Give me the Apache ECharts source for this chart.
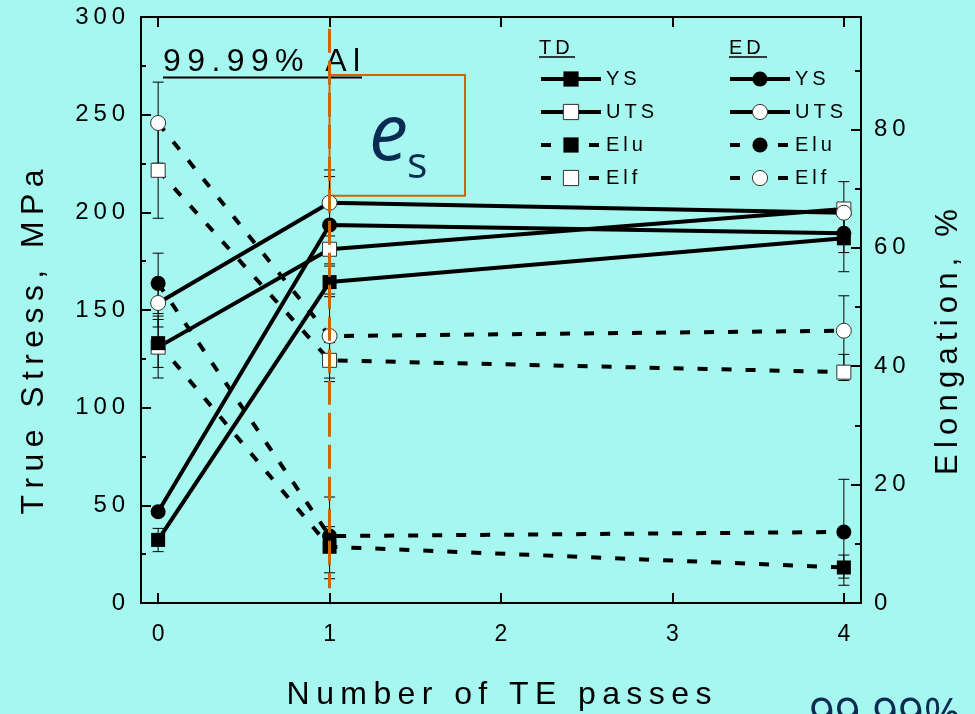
<!DOCTYPE html>
<html>
<head>
<meta charset="utf-8">
<script src="https://cdn.jsdelivr.net/npm/echarts@6/dist/echarts.min.js"></script>
<style>
  html, body { margin: 0; padding: 0; background: #a6f7ef; }
  #chart { width: 975px; height: 714px; }
</style>
</head>
<body>
<div id="chart"></div>
<script>
// Tensile properties of 99.99% Al versus the number of TE passes
const passes = [0, 1, 4];
const xTicks = [0, 1, 2, 3, 4];

// True stress, MPa (left axis)
const tdYS  = [32.3, 164.3, 186.7];
const tdUTS = [131.0, 181.1, 201.7];
const edYS  = [46.7, 193.5, 189.3];
const edUTS = [153.6, 204.9, 199.8];

// Elongation, % (right axis)
const tdElu = [43.9, 9.5, 6.0];
const tdElf = [73.1, 41.0, 39.0];
const edElu = [54.0, 11.3, 12.0];
const edElf = [81.1, 45.1, 46.0];

// Scatter ranges [low, high] at each pass
const tdYSErr  = [[26.3, 38.2], [156.8, 172.5], [169.6, 203.8]];
const tdUTSErr = [[115.2, 146.9], [173.6, 187.9], [187.7, 215.7]];
const edYSErr  = [[44.7, 48.7], [165.4, 221.7], [179.4, 199.2]];
const edUTSErr = [[141.3, 165.9], [191.6, 218.3], [189.6, 205.0]];
const tdEluErr = [[39.8, 47.9], [4.1, 12.9], [4.2, 8.1]];
const tdElfErr = [[65.0, 80.5], [38.0, 44.0], [37.6, 42.0]];
const edEluErr = [[48.9, 59.1], [5.1, 17.9], [3.0, 20.9]];
const edElfErr = [[74.3, 88.0], [37.4, 52.2], [40.1, 51.9]];

// Stress annotation: pass 1 marker line and the e_s box
const markerPass = [1, 294, 7.5];          // x, top stress, bottom stress
const esBox = [[1, 270.3], [1.79, 208.5]]; // corners in (pass, stress)

const FONT = '"Liberation Sans", Arial, sans-serif';
const spaced = s => String(s).split('').join('\u2009');

const solidLine = { color: '#000', width: 4, type: 'solid', cap: 'butt' };
const dashLine  = { color: '#000', width: 4, type: [10, 14], cap: 'butt' };
const filled = { color: '#000' };
const hollow = { color: '#fff', borderColor: '#333', borderWidth: 1 };

function propSeries(name, values, yAxisIndex, symbol, itemStyle, lineStyle) {
  return {
    name, type: 'line', xAxisIndex: 0, yAxisIndex,
    data: passes.map((x, i) => [x, values[i]]),
    symbol, symbolSize: symbol === 'circle' ? 15 : 14,
    showSymbol: true, itemStyle, lineStyle, z: 3,
    emphasis: { disabled: true }, animation: false
  };
}

function errRows(list) {
  const rows = [];
  list.forEach(err => err.forEach((r, i) => rows.push([passes[i], r[0], r[1]])));
  return rows;
}

function renderErr(params, api) {
  const x = api.value(0);
  const top = api.coord([x, api.value(2)]);
  const bot = api.coord([x, api.value(1)]);
  const w = 5.5;
  const st = { stroke: '#000', lineWidth: 1 };
  return {
    type: 'group',
    children: [
      { type: 'line', shape: { x1: top[0], y1: top[1], x2: bot[0], y2: bot[1] }, style: st },
      { type: 'line', shape: { x1: top[0] - w, y1: top[1], x2: top[0] + w, y2: top[1] }, style: st },
      { type: 'line', shape: { x1: bot[0] - w, y1: bot[1], x2: bot[0] + w, y2: bot[1] }, style: st }
    ]
  };
}

const axisLineStyle = { color: '#000', width: 2 };
const labelStyle = { fontSize: 24, color: '#000', fontFamily: FONT };

const chart = echarts.init(document.getElementById('chart'), null, { renderer: 'canvas' });

const stressSeries = propSeries('ED UTS', edUTS, 0, 'circle', hollow, solidLine);
stressSeries.markLine = {
  silent: true, symbol: ['none', 'none'], label: { show: false },
  lineStyle: { color: '#cc6600', width: 3, type: [24, 8] },
  emphasis: { disabled: true },
  data: [[{ coord: [markerPass[0], markerPass[1]] }, { coord: [markerPass[0], markerPass[2]] }]]
};
stressSeries.markArea = {
  silent: true, label: { show: false },
  itemStyle: { color: 'rgba(0,0,0,0)', borderColor: '#cc6600', borderWidth: 2 },
  emphasis: { disabled: true },
  data: [[{ coord: esBox[0] }, { coord: esBox[1] }]]
};

const legendBase = {
  orient: 'vertical', top: 69, itemWidth: 60, itemHeight: 19, itemGap: 13,
  padding: 0, selectedMode: false,
  formatter: n => spaced(n.slice(3)),
  textStyle: { fontSize: 20, color: '#000', fontFamily: FONT },
  lineStyle: { width: 4 },
  itemStyle: { borderWidth: 1 }
};

chart.setOption({
  backgroundColor: '#a6f7ef',
  animation: false,
  grid: { left: 141, right: 114, top: 17, bottom: 111, containLabel: false },
  xAxis: [
    {
      type: 'value', min: -0.1, max: 4.1, position: 'bottom',
      axisLine: { show: true, onZero: false, lineStyle: axisLineStyle },
      axisTick: { show: true, inside: true, length: 10, customValues: xTicks, lineStyle: { color: '#000', width: 2 } },
      axisLabel: { customValues: xTicks, margin: 20, ...labelStyle, fontSize: 23 },
      splitLine: { show: false }
    },
    {
      type: 'value', min: -0.1, max: 4.1, position: 'top',
      axisLine: { show: true, onZero: false, lineStyle: axisLineStyle },
      axisTick: { show: true, inside: true, length: 10, customValues: xTicks, lineStyle: { color: '#000', width: 2 } },
      axisLabel: { show: false },
      splitLine: { show: false }
    }
  ],
  yAxis: [
    {
      type: 'value', min: 0, max: 300, interval: 50, position: 'left',
      axisLine: { show: true, onZero: false, lineStyle: axisLineStyle },
      axisTick: { show: true, inside: true, length: 10, lineStyle: { color: '#000', width: 2 } },
      minorTick: { show: true, splitNumber: 2, length: 5, lineStyle: { color: '#000', width: 2 } },
      axisLabel: { margin: 16, formatter: v => spaced(v), ...labelStyle },
      splitLine: { show: false }, minorSplitLine: { show: false }
    },
    {
      type: 'value', min: 0, max: 99, interval: 20, position: 'right',
      axisLine: { show: true, onZero: false, lineStyle: axisLineStyle },
      axisTick: { show: true, inside: true, length: 10, lineStyle: { color: '#000', width: 2 } },
      minorTick: { show: true, splitNumber: 2, length: 6, lineStyle: { color: '#000', width: 2 } },
      axisLabel: { margin: 13, showMaxLabel: false, formatter: v => spaced(v), ...labelStyle },
      splitLine: { show: false }, minorSplitLine: { show: false }
    }
  ],
  legend: [
    Object.assign({}, legendBase, { left: 539, data: ['TD YS', 'TD UTS', 'TD Elu', 'TD Elf'] }),
    Object.assign({}, legendBase, { left: 728, data: ['ED YS', 'ED UTS', 'ED Elu', 'ED Elf'] })
  ],
  series: [
    {
      type: 'custom', name: 'stress range', xAxisIndex: 0, yAxisIndex: 0, z: 2, silent: true,
      renderItem: renderErr, encode: { x: 0, y: [1, 2] },
      data: errRows([tdYSErr, tdUTSErr, edYSErr, edUTSErr])
    },
    {
      type: 'custom', name: 'elongation range', xAxisIndex: 0, yAxisIndex: 1, z: 2, silent: true,
      renderItem: renderErr, encode: { x: 0, y: [1, 2] },
      data: errRows([tdEluErr, tdElfErr, edEluErr, edElfErr])
    },
    propSeries('TD YS', tdYS, 0, 'rect', filled, solidLine),
    propSeries('TD UTS', tdUTS, 0, 'rect', hollow, solidLine),
    propSeries('TD Elf', tdElf, 1, 'rect', hollow, dashLine),
    propSeries('TD Elu', tdElu, 1, 'rect', filled, dashLine),
    propSeries('ED YS', edYS, 0, 'circle', filled, solidLine),
    stressSeries,
    propSeries('ED Elf', edElf, 1, 'circle', hollow, dashLine),
    propSeries('ED Elu', edElu, 1, 'circle', filled, dashLine)
  ],
  graphic: [
    { type: 'text', x: 34, y: 342, rotation: Math.PI / 2, silent: true,
      style: { text: spaced('True Stress, MPa'), fontSize: 32, fontFamily: FONT, fill: '#000', align: 'center', verticalAlign: 'middle' } },
    { type: 'text', x: 948, y: 342, rotation: Math.PI / 2, silent: true,
      style: { text: spaced('Elongation, %'), fontSize: 31, fontFamily: FONT, fill: '#000', align: 'center', verticalAlign: 'middle' } },
    { type: 'text', x: 499, y: 695, silent: true,
      style: { text: spaced('Number of TE passes'), fontSize: 32, fontFamily: FONT, fill: '#000', align: 'center', verticalAlign: 'middle' } },
    { type: 'text', x: 163, y: 62, silent: true,
      style: { text: spaced('99.99% Al'), fontSize: 32, fontFamily: FONT, fill: '#000', align: 'left', verticalAlign: 'middle' } },
    { type: 'line', silent: true, shape: { x1: 163, y1: 77.5, x2: 362, y2: 77.5 }, style: { stroke: '#000', lineWidth: 2 } },
    { type: 'text', x: 539, y: 48, silent: true,
      style: { text: spaced('TD'), fontSize: 20, fontFamily: FONT, fill: '#000', align: 'left', verticalAlign: 'middle' } },
    { type: 'line', silent: true, shape: { x1: 539, y1: 57, x2: 575, y2: 57 }, style: { stroke: '#000', lineWidth: 1.5 } },
    { type: 'text', x: 729, y: 48, silent: true,
      style: { text: spaced('ED'), fontSize: 20, fontFamily: FONT, fill: '#000', align: 'left', verticalAlign: 'middle' } },
    { type: 'line', silent: true, shape: { x1: 729, y1: 57, x2: 767, y2: 57 }, style: { stroke: '#000', lineWidth: 1.5 } },
    { type: 'text', x: 369, y: 138, silent: true,
      style: { text: 'e', fontSize: 78, fontStyle: 'italic', fontFamily: '"Open Sans", sans-serif', fill: '#0b2b52', align: 'left', verticalAlign: 'middle' } },
    { type: 'text', x: 407, y: 166, silent: true,
      style: { text: 's', fontSize: 43, fontFamily: '"Open Sans", sans-serif', fill: '#0b2b52', align: 'left', verticalAlign: 'middle' } },
    { type: 'text', x: 809, y: 718, silent: true,
      style: { text: '99.99%', fontSize: 45, fontFamily: '"Open Sans", sans-serif', fill: '#0b2b52', align: 'left', verticalAlign: 'middle' } }
  ]
});
</script>
</body>
</html>
